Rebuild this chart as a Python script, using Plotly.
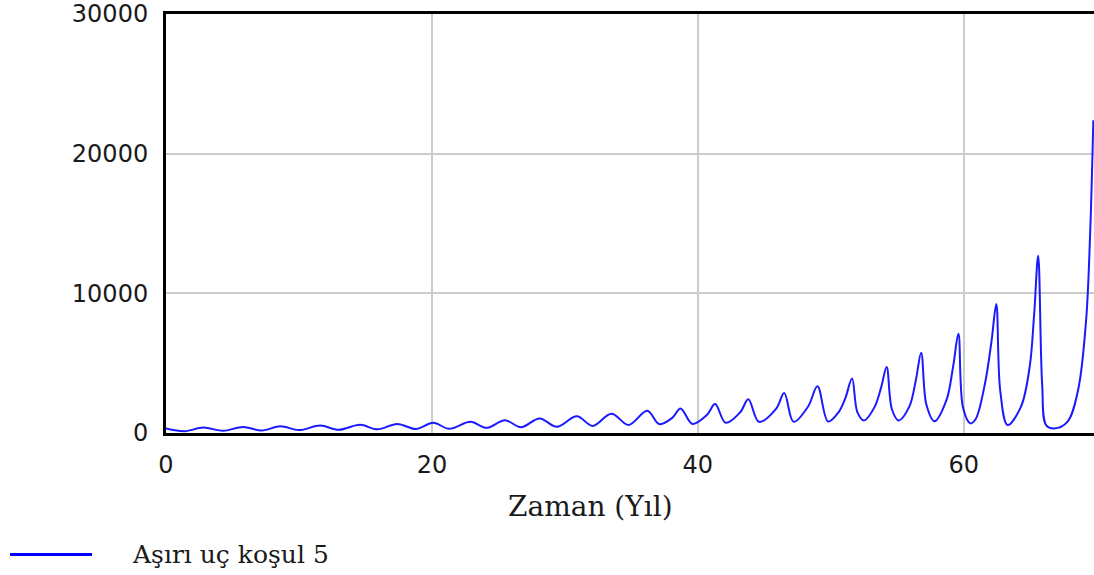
import plotly.graph_objects as go

# Time (years) and values
time_years = [
    0.0, 1.4, 2.8, 4.3, 5.8, 7.2, 8.6, 10.0, 11.6, 13.0, 14.6, 15.9, 17.4, 18.8,
    20.1, 21.3, 22.9, 24.1, 25.5, 26.7, 28.1, 29.4, 30.9, 32.1, 33.5, 34.8, 36.2,
    37.1, 38.1, 38.7, 39.6, 40.7, 41.3, 42.1, 43.2, 43.8, 44.6,
    45.9, 46.5, 47.2, 48.3, 49.0, 49.8, 50.6, 51.1, 51.6, 52.0,
    52.5, 53.3, 53.8, 54.2, 54.6, 55.1, 55.9, 56.4, 56.8, 57.2, 57.8,
    58.7, 59.2, 59.6, 59.95, 60.5, 60.9, 61.6, 62.1, 62.45, 62.75, 63.3,
    64.3, 64.96, 65.3, 65.6, 65.9, 66.2, 66.8, 67.8, 68.6, 69.2, 69.5, 69.75,
]
values = [
    330, 130, 390, 160, 430, 180, 480, 210, 530, 230, 590, 260, 650, 290,
    730, 300, 800, 370, 910, 410, 1040, 450, 1200, 510, 1380, 580, 1600,
    640, 1100, 1760, 650, 1300, 2070, 730, 1500, 2420, 800,
    1750, 2870, 800, 1900, 3350, 820, 1500, 2500, 3900, 1500,
    900, 1870, 3300, 4730, 1700, 900, 1870, 3780, 5750, 2000, 840,
    2350, 4730, 7100, 1800, 690, 1000, 3540, 6630, 9245, 3000, 570,
    1870, 4730, 8530, 12690, 3500, 570, 330, 800, 3060, 8000, 14000, 22400,
]

series_name = "Aşırı uç koşul 5"
x_title = "Zaman (Yıl)"
x_ticks = [0, 20, 40, 60]
y_ticks = [0, 10000, 20000, 30000]

fig = go.Figure()
fig.add_trace(go.Scatter(
    x=time_years, y=values, mode="lines",
    line=dict(color="#1a1aff", width=2, shape="spline", smoothing=1.0),
    name=series_name, showlegend=False,
))

fig.update_layout(
    width=1094, height=575,
    margin=dict(l=166, r=0, t=12, b=142),
    paper_bgcolor="white", plot_bgcolor="white",
    xaxis=dict(
        range=[0, 69.8], tickvals=x_ticks, ticktext=[str(v) for v in x_ticks],
        showgrid=True, gridcolor="#cccccc", gridwidth=2,
        showline=True, linecolor="black", linewidth=3, mirror=True,
        zeroline=False, ticks="", ticklabelstandoff=8,
        tickfont=dict(family="DejaVu Sans", size=24, color="#1a1a1a"),
    ),
    yaxis=dict(
        range=[0, 30000], tickvals=y_ticks, ticktext=[str(v) for v in y_ticks],
        showgrid=True, gridcolor="#cccccc", gridwidth=2,
        showline=True, linecolor="black", linewidth=3, mirror=False,
        zeroline=False, ticks="", ticklabelstandoff=10,
        ticklabeloverflow="allow",
        tickfont=dict(family="DejaVu Sans", size=24, color="#1a1a1a"),
    ),
    showlegend=False,
)

# Axis title
fig.add_annotation(
    text=x_title, xref="paper", yref="paper",
    x=(590 - 166) / 928, y=(433 - 507) / 421,
    xanchor="center", yanchor="middle", showarrow=False,
    font=dict(family="DejaVu Serif", size=28, color="#1a1a1a"),
)

# Legend (drawn manually)
fig.add_shape(
    type="line", xref="paper", yref="paper",
    x0=(10 - 166) / 928, x1=(92 - 166) / 928,
    y0=(433 - 555) / 421, y1=(433 - 555) / 421,
    line=dict(color="#0000ff", width=3),
)
fig.add_annotation(
    text=series_name, xref="paper", yref="paper",
    x=(130 - 166) / 928, y=(433 - 555) / 421,
    xanchor="left", yanchor="middle", showarrow=False,
    font=dict(family="DejaVu Serif", size=25, color="#1a1a1a"),
)

fig.write_html("out.html")
